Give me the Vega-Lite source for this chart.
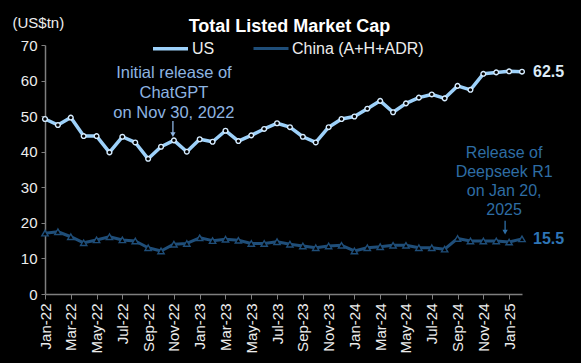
{
  "$schema": "https://vega.github.io/schema/vega-lite/v6.json",
  "autosize": "none",
  "width": 477,
  "height": 249,
  "padding": {"left": 45, "top": 45, "right": 59, "bottom": 69},
  "background": "black",
  "config": {
    "view": {"stroke": null},
    "font": "Liberation Sans",
    "axis": {"labelFont": "Liberation Sans", "titleFont": "Liberation Sans"}
  },
  "title": {
    "text": "Total Listed Market Cap",
    "font": "Liberation Sans",
    "fontSize": 18,
    "fontWeight": "bold",
    "color": "#FFFFFF",
    "anchor": "middle",
    "dx": 6,
    "offset": -21
  },
  "datasets": {
    "series": [
      {"month": "Jan-22", "series": "US", "value": 49.2},
      {"month": "Feb-22", "series": "US", "value": 47.5},
      {"month": "Mar-22", "series": "US", "value": 49.6},
      {"month": "Apr-22", "series": "US", "value": 44.4},
      {"month": "May-22", "series": "US", "value": 44.4},
      {"month": "Jun-22", "series": "US", "value": 39.8},
      {"month": "Jul-22", "series": "US", "value": 44.2},
      {"month": "Aug-22", "series": "US", "value": 42.6},
      {"month": "Sep-22", "series": "US", "value": 38.0},
      {"month": "Oct-22", "series": "US", "value": 41.4},
      {"month": "Nov-22", "series": "US", "value": 43.2},
      {"month": "Dec-22", "series": "US", "value": 40.0},
      {"month": "Jan-23", "series": "US", "value": 43.5},
      {"month": "Feb-23", "series": "US", "value": 42.8},
      {"month": "Mar-23", "series": "US", "value": 45.9},
      {"month": "Apr-23", "series": "US", "value": 43.0},
      {"month": "May-23", "series": "US", "value": 44.6},
      {"month": "Jun-23", "series": "US", "value": 46.4},
      {"month": "Jul-23", "series": "US", "value": 48.0},
      {"month": "Aug-23", "series": "US", "value": 46.9},
      {"month": "Sep-23", "series": "US", "value": 44.2},
      {"month": "Oct-23", "series": "US", "value": 42.6},
      {"month": "Nov-23", "series": "US", "value": 46.9},
      {"month": "Dec-23", "series": "US", "value": 49.2},
      {"month": "Jan-24", "series": "US", "value": 49.9},
      {"month": "Feb-24", "series": "US", "value": 52.1},
      {"month": "Mar-24", "series": "US", "value": 54.3},
      {"month": "Apr-24", "series": "US", "value": 51.1},
      {"month": "May-24", "series": "US", "value": 53.6},
      {"month": "Jun-24", "series": "US", "value": 55.2},
      {"month": "Jul-24", "series": "US", "value": 56.1},
      {"month": "Aug-24", "series": "US", "value": 55.0},
      {"month": "Sep-24", "series": "US", "value": 58.5},
      {"month": "Oct-24", "series": "US", "value": 57.4},
      {"month": "Nov-24", "series": "US", "value": 61.9},
      {"month": "Dec-24", "series": "US", "value": 62.3},
      {"month": "Jan-25", "series": "US", "value": 62.6},
      {"month": "Feb-25", "series": "US", "value": 62.5},
      {"month": "Jan-22", "series": "China (A+H+ADR)", "value": 17.1},
      {"month": "Feb-22", "series": "China (A+H+ADR)", "value": 17.5},
      {"month": "Mar-22", "series": "China (A+H+ADR)", "value": 16.1},
      {"month": "Apr-22", "series": "China (A+H+ADR)", "value": 14.4},
      {"month": "May-22", "series": "China (A+H+ADR)", "value": 15.2},
      {"month": "Jun-22", "series": "China (A+H+ADR)", "value": 16.1},
      {"month": "Jul-22", "series": "China (A+H+ADR)", "value": 15.2},
      {"month": "Aug-22", "series": "China (A+H+ADR)", "value": 14.9},
      {"month": "Sep-22", "series": "China (A+H+ADR)", "value": 13.0},
      {"month": "Oct-22", "series": "China (A+H+ADR)", "value": 12.1},
      {"month": "Nov-22", "series": "China (A+H+ADR)", "value": 14.0},
      {"month": "Dec-22", "series": "China (A+H+ADR)", "value": 14.2},
      {"month": "Jan-23", "series": "China (A+H+ADR)", "value": 15.8},
      {"month": "Feb-23", "series": "China (A+H+ADR)", "value": 15.0},
      {"month": "Mar-23", "series": "China (A+H+ADR)", "value": 15.4},
      {"month": "Apr-23", "series": "China (A+H+ADR)", "value": 15.1},
      {"month": "May-23", "series": "China (A+H+ADR)", "value": 14.2},
      {"month": "Jun-23", "series": "China (A+H+ADR)", "value": 14.2},
      {"month": "Jul-23", "series": "China (A+H+ADR)", "value": 14.7},
      {"month": "Aug-23", "series": "China (A+H+ADR)", "value": 14.0},
      {"month": "Sep-23", "series": "China (A+H+ADR)", "value": 13.5},
      {"month": "Oct-23", "series": "China (A+H+ADR)", "value": 13.0},
      {"month": "Nov-23", "series": "China (A+H+ADR)", "value": 13.5},
      {"month": "Dec-23", "series": "China (A+H+ADR)", "value": 13.7},
      {"month": "Jan-24", "series": "China (A+H+ADR)", "value": 12.1},
      {"month": "Feb-24", "series": "China (A+H+ADR)", "value": 13.0},
      {"month": "Mar-24", "series": "China (A+H+ADR)", "value": 13.3},
      {"month": "Apr-24", "series": "China (A+H+ADR)", "value": 13.7},
      {"month": "May-24", "series": "China (A+H+ADR)", "value": 13.7},
      {"month": "Jun-24", "series": "China (A+H+ADR)", "value": 13.0},
      {"month": "Jul-24", "series": "China (A+H+ADR)", "value": 13.0},
      {"month": "Aug-24", "series": "China (A+H+ADR)", "value": 12.6},
      {"month": "Sep-24", "series": "China (A+H+ADR)", "value": 15.6},
      {"month": "Oct-24", "series": "China (A+H+ADR)", "value": 14.9},
      {"month": "Nov-24", "series": "China (A+H+ADR)", "value": 14.9},
      {"month": "Dec-24", "series": "China (A+H+ADR)", "value": 14.9},
      {"month": "Jan-25", "series": "China (A+H+ADR)", "value": 14.6},
      {"month": "Feb-25", "series": "China (A+H+ADR)", "value": 15.5}
    ],
    "gptNote": [{"month": "Nov-22", "value": 62.1, "text": "Initial release of\nChatGPT\non Nov 30, 2022"}],
    "gptArrow": [{"month": "Nov-22", "value": 48.6, "value2": 44.8}],
    "gptHead": [{"month": "Nov-22", "value": 44.8}],
    "dsNote": [{"month": "Jan-25", "value": 39.6, "text": "Release of\nDeepseek R1\non Jan 20,\n2025"}],
    "dsArrow": [{"month": "Jan-25", "value": 20.6, "value2": 17.4}],
    "dsHead": [{"month": "Jan-25", "value": 17.4}],
    "usEnd": [{"month": "Feb-25", "value": 62.5, "label": "62.5"}],
    "cnEnd": [{"month": "Feb-25", "value": 15.5, "label": "15.5"}]
  },
  "encoding": {
    "x": {
      "field": "month",
      "type": "ordinal",
      "scale": {
        "type": "point",
        "padding": 0,
        "domain": ["Jan-22","Feb-22","Mar-22","Apr-22","May-22","Jun-22","Jul-22","Aug-22","Sep-22","Oct-22","Nov-22","Dec-22","Jan-23","Feb-23","Mar-23","Apr-23","May-23","Jun-23","Jul-23","Aug-23","Sep-23","Oct-23","Nov-23","Dec-23","Jan-24","Feb-24","Mar-24","Apr-24","May-24","Jun-24","Jul-24","Aug-24","Sep-24","Oct-24","Nov-24","Dec-24","Jan-25","Feb-25"]
      },
      "axis": {
        "title": null,
        "values": ["Jan-22","Mar-22","May-22","Jul-22","Sep-22","Nov-22","Jan-23","Mar-23","May-23","Jul-23","Sep-23","Nov-23","Jan-24","Mar-24","May-24","Jul-24","Sep-24","Nov-24","Jan-25"],
        "labelAngle": -90,
        "labelFontSize": 15,
        "labelColor": "#EDEDED",
        "labelPadding": 4,
        "tickSize": 5,
        "tickColor": "#7F7F7F",
        "domainColor": "#7F7F7F",
        "domainWidth": 1.5,
        "grid": false
      }
    },
    "y": {
      "field": "value",
      "type": "quantitative",
      "scale": {"domain": [0, 70], "nice": false},
      "axis": {
        "values": [0, 10, 20, 30, 40, 50, 60, 70],
        "labelOverlap": false,
        "title": "(US$tn)",
        "titleAngle": 0,
        "titleX": -33,
        "titleY": -23,
        "titleAlign": "left",
        "titleBaseline": "middle",
        "titleFontSize": 15,
        "titleFontWeight": "normal",
        "titleColor": "#EDEDED",
        "labelFontSize": 15,
        "labelColor": "#EDEDED",
        "labelPadding": 4,
        "tickSize": 4,
        "tickColor": "#7F7F7F",
        "domainColor": "#7F7F7F",
        "domainWidth": 1.5,
        "grid": false
      }
    }
  },
  "layer": [
    {
      "data": {"name": "series"},
      "mark": {"type": "line", "strokeJoin": "round"},
      "encoding": {
        "color": {
          "field": "series",
          "type": "nominal",
          "scale": {"domain": ["US", "China (A+H+ADR)"], "range": ["#9DD1FA", "#1F4E79"]},
          "legend": {
            "title": null,
            "orient": "none",
            "direction": "horizontal",
            "legendX": 106,
            "legendY": -16,
            "symbolType": "stroke",
            "symbolSize": 1225,
            "symbolStrokeWidth": 3.5,
            "labelFontSize": 16,
            "labelColor": "#EDEDED",
            "labelOffset": 2,
            "columnPadding": 32
          }
        },
        "strokeWidth": {
          "field": "series",
          "type": "nominal",
          "scale": {"domain": ["US", "China (A+H+ADR)"], "range": [3.5, 3]},
          "legend": null
        }
      }
    },
    {
      "data": {"name": "series"},
      "transform": [{"filter": "datum.series === 'US'"}],
      "mark": {"type": "point", "shape": "circle", "size": 22, "filled": false, "fill": "#000000", "stroke": "#D6ECFF", "strokeWidth": 1.4, "opacity": 1}
    },
    {
      "data": {"name": "series"},
      "transform": [{"filter": "datum.series !== 'US'"}],
      "mark": {"type": "point", "shape": "triangle-up", "size": 40, "filled": false, "fill": "#000000", "stroke": "#1F4E79", "strokeWidth": 1.4, "opacity": 1}
    },
    {
      "data": {"name": "gptNote"},
      "mark": {"type": "text", "lineBreak": "\n", "fontSize": 16.5, "color": "#8DB4E2", "align": "center", "baseline": "middle", "lineHeight": 20},
      "encoding": {
        "text": {"field": "text"}
      }
    },
    {
      "data": {"name": "gptArrow"},
      "mark": {"type": "rule", "color": "#8DB4E2", "strokeWidth": 1.3, "xOffset": -1},
      "encoding": {
        "y2": {"field": "value2"}
      }
    },
    {
      "data": {"name": "gptHead"},
      "mark": {"type": "point", "shape": "triangle-down", "filled": true, "color": "#8DB4E2", "size": 28, "opacity": 1, "xOffset": -1}
    },
    {
      "data": {"name": "dsNote"},
      "mark": {"type": "text", "lineBreak": "\n", "fontSize": 16, "color": "#2E6DA4", "align": "center", "baseline": "middle", "lineHeight": 19, "dx": -5},
      "encoding": {
        "text": {"field": "text"}
      }
    },
    {
      "data": {"name": "dsArrow"},
      "mark": {"type": "rule", "color": "#2E6DA4", "strokeWidth": 1.3, "xOffset": -4},
      "encoding": {
        "y2": {"field": "value2"}
      }
    },
    {
      "data": {"name": "dsHead"},
      "mark": {"type": "point", "shape": "triangle-down", "filled": true, "color": "#2E6DA4", "size": 28, "opacity": 1, "xOffset": -4}
    },
    {
      "data": {"name": "usEnd"},
      "mark": {"type": "text", "align": "left", "baseline": "middle", "dx": 11, "fontSize": 16, "fontWeight": "bold", "color": "#DDEBF7"},
      "encoding": {
        "text": {"field": "label"}
      }
    },
    {
      "data": {"name": "cnEnd"},
      "mark": {"type": "text", "align": "left", "baseline": "middle", "dx": 11, "fontSize": 16, "fontWeight": "bold", "color": "#2E75B6"},
      "encoding": {
        "text": {"field": "label"}
      }
    }
  ]
}
